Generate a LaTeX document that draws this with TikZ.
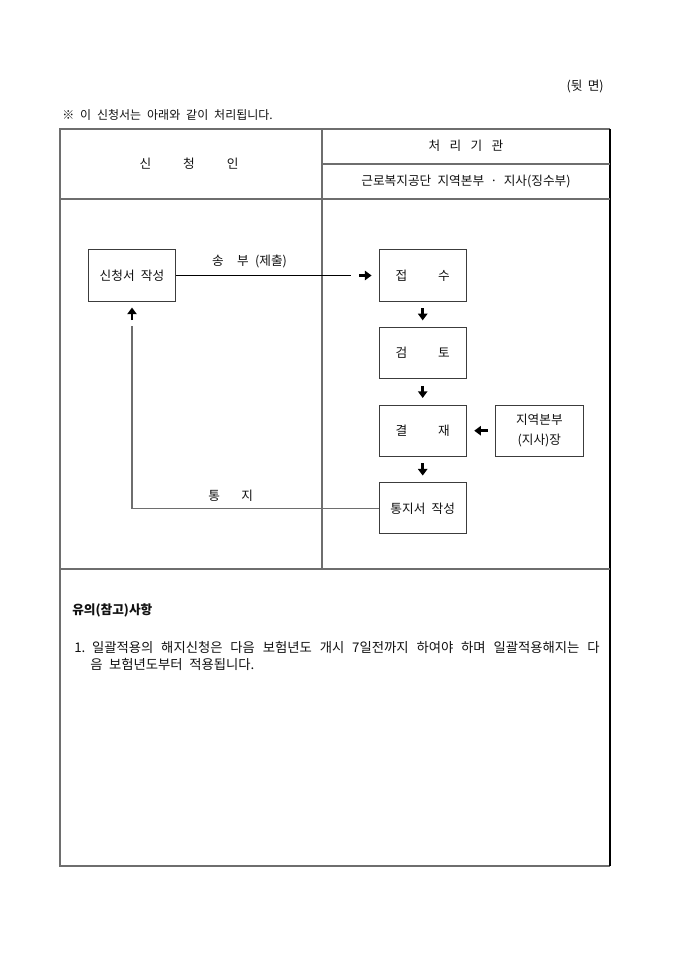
\documentclass[tikz,border=0pt]{standalone}
\usepackage{fontspec}
\setmainfont{Noto Sans CJK KR}[WordSpace=2.2]
\usepackage{xcolor}
\definecolor{cLine}{HTML}{6E6E6E}
\definecolor{cBox}{HTML}{3C3C3C}
\definecolor{cInk}{HTML}{111111}
\usetikzlibrary{positioning,arrows.meta,calc}
\tikzset{
  node-box/.style={draw=cBox,line width=0.8pt,minimum width=65.5pt,
    minimum height=38.3pt,inner sep=0pt,align=center,
    font=\fontsize{9.5}{15}\selectfont,text=cInk},
  node-text/.style={inner sep=0pt,font=\fontsize{9.5}{12}\selectfont,text=cInk},
  note-text/.style={node-text,font=\fontsize{10}{12}\selectfont},
  table-line/.style={draw=cLine,line width=0.9pt},
  arrow-short/.style={-{Triangle[length=5pt,width=7pt]},line width=2pt,draw=black},
  link/.style={draw=black,line width=0.6pt},
  link-back/.style={draw=cLine,line width=0.8pt},
}

\begin{document}
\begin{tikzpicture}[x=0.75pt,y=-0.75pt,node distance=19.1pt]
  \useasboundingbox[fill=white] (0,0) rectangle (680,962);
  % 표 틀
  \draw[table-line] (610,129) -- (60,129) -- (60,866) -- (610,866);
  \draw[draw=black,line width=1pt] (610,129) -- (610,866);
  \draw[table-line] (322,129) -- (322,569);
  \draw[table-line] (322,164) -- (610,164);
  \draw[table-line] (60,199) -- (610,199);
  \draw[table-line] (60,569) -- (610,569);

  \node[node-text,anchor=east] (side) at (604,87) {(뒷\hspace{4pt}면)};
  \node[node-text,anchor=west,font=\fontsize{9}{12}\selectfont] (intro) at (62,115)
    {※ 이 신청서는 아래와 같이 처리됩니다.};
  \node[node-text] (applicant) at (189,164) {신\hspace{24pt}청\hspace{24pt}인};
  \node[node-text] (agency) at (466,146) {처\hspace{7pt}리\hspace{7pt}기\hspace{7pt}관};
  \node[node-text] (branch) at (466,182) {근로복지공단 지역본부 · 지사(징수부)};

  % 처리 흐름
  \node[node-box] (apply) at (132,275.5) {신청서 작성};
  \node[node-box] (receive) at (422.7,275.5) {접\hspace{23pt}수};
  \node[node-box,below=of receive] (review) {검\hspace{23pt}토};
  \node[node-box,below=of review] (approve) {결\hspace{23pt}재};
  \node[node-box,below=of approve] (notice) {통지서 작성};
  \node[node-box,right=21.2pt of approve] (chief) {지역본부\\(지사)장};
  \coordinate (sendEnd) at (351,275.5);
  \coordinate (backTop) at (132,326);

  \draw[link] (apply) -- node[node-text,above=5pt,pos=0.42]{송\hspace{10pt}부 (제출)} (sendEnd);
  \draw[arrow-short,shorten <=6pt,shorten >=5.2pt] (sendEnd) -- (receive);
  \draw[arrow-short,shorten <=5pt,shorten >=5pt] (receive) -- (review);
  \draw[arrow-short,shorten <=5pt,shorten >=5pt] (review) -- (approve);
  \draw[arrow-short,shorten <=5pt,shorten >=5pt] (approve) -- (notice);
  \draw[arrow-short,shorten <=5.5pt,shorten >=5.5pt] (chief) -- (approve);
  \draw[link-back] (notice.west) -| node[node-text,above=5pt,pos=0.3]{통\hspace{16pt}지} (backTop);
  \draw[arrow-short,shorten <=4.5pt,shorten >=4.5pt] (backTop) -- (apply);

  % 유의사항
  \node[node-text,anchor=west,font=\fontsize{9.5}{12}\selectfont\bfseries] (noteHead) at (72,610) {유의(참고)사항};
  \node[note-text,anchor=west] (noteOne) at (74,647)
    {\makebox[394pt][s]{1.\hspace{5pt}일괄적용의 해지신청은 다음 보험년도 개시 7일전까지 하여야 하며 일괄적용해지는 다}};
  \node[note-text,anchor=west] (noteTwo) at (90,664) {음 보험년도부터 적용됩니다.};
\end{tikzpicture}
\end{document}
